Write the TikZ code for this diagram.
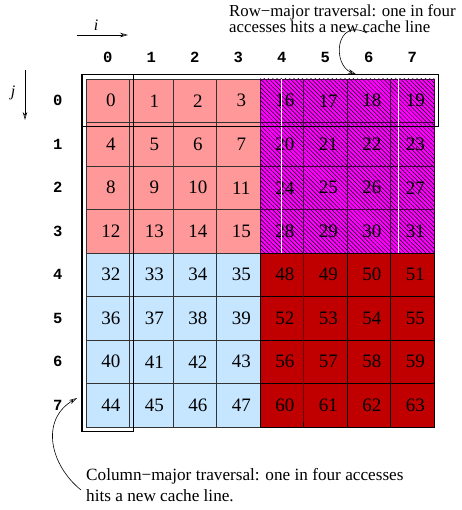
\documentclass[tikz,border=0pt]{standalone}
\usepackage{fontspec}
\setmainfont{Liberation Serif}
\setmonofont{Liberation Mono}
\usepackage{tikz}
\usetikzlibrary{arrows.meta, positioning, fit, patterns.meta}
\definecolor{CellPink}{HTML}{FF9999}
\definecolor{CellBlue}{HTML}{C6E6FF}
\definecolor{CellMagenta}{HTML}{FF00FF}
\definecolor{CellRed}{HTML}{C00000}
\definecolor{GridInk}{HTML}{333333}

\begin{document}
\begin{tikzpicture}[x=1pt, y=-1pt,
  font=\fontsize{16.8}{16.8}\selectfont,
  >={Stealth[open, length=8pt, width=4.5pt]},
  cell/.style={rectangle, draw=GridInk, line width=0.7pt, minimum size=43.5pt,
               inner sep=0pt, font=\fontsize{19}{21}\selectfont},
  pinkcell/.style={cell, fill=CellPink},
  bluecell/.style={cell, fill=CellBlue},
  redcell/.style={cell, fill=CellRed, draw=black},
  hatchcell/.style={cell, draw=black!75!CellMagenta, preaction={fill=CellMagenta},
                    pattern={Lines[angle=-45, distance=3pt, line width=0.5pt]}},
  idx/.style={font=\fontsize{15.5}{17}\selectfont\ttfamily\bfseries, inner sep=0pt},
  hl/.style={draw, line width=1.3pt, inner sep=3.8pt},
  arr/.style={->, line width=0.6pt},
  note/.style={align=left, inner sep=0pt, anchor=north west},
]
\useasboundingbox (0,0) rectangle (461,510);

% the 8x8 array, one quadrant at a time
\foreach \kind/\rs/\cs/\base in {pinkcell/0/0/0, hatchcell/0/4/16, bluecell/4/0/32, redcell/4/4/48} {
  \foreach \i in {0,...,3} {
    \foreach \j in {0,...,3} {
      \pgfmathtruncatemacro\ri{\rs+\i}
      \pgfmathtruncatemacro\ci{\cs+\j}
      \pgfmathtruncatemacro\val{\base+4*\i+\j}
      \node[\kind] (c-\ri-\ci) at ({86+43.5*(\ci+0.5)}, {79+43.5*(\ri+0.5)}) {\hspace*{6pt}\val};
    }
  }
}
\draw[white, line width=0.8pt] (c-0-4.north) -- (c-3-4.south);
\draw[white, line width=0.8pt] ([xshift=-14pt]c-0-7.north) -- ([xshift=-14pt]c-3-7.south);
\draw[CellRed!55!black, line width=1.2pt] (c-4-4.north east) -- ([yshift=5pt]c-7-4.south east);

% index labels
\foreach \k in {0,...,7} {
  \node[idx, above=16pt of c-0-\k] (col\k) {\k};
  \node[idx, left=23pt of c-\k-0] (row\k) {\k};
}

% traversal boxes
\node[hl, fit=(c-0-0)(c-0-7)] (rowbox) {};
\node[hl, fit=(c-0-0)(c-7-0)] (colbox) {};

% axes
\coordinate (i-from) at (77,35);
\coordinate (i-to) at (128,35);
\draw[arr] (i-from) -- (i-to);
\node[inner sep=0pt, font=\fontsize{16}{18}\selectfont] (ilabel) at (96,25) {\textit{i}};
\coordinate (j-from) at (25,70);
\coordinate (j-to) at (25,120);
\draw[arr] (j-from) -- (j-to);
\node[inner sep=0pt, font=\fontsize{16}{18}\selectfont] (jlabel) at (13,93) {\textit{j}};

% notes
\node[note] (rownote) at (229,4) {Row−major traversal: one in four\\accesses hits a new cache line};
\node[note, font=\fontsize{17.2}{21}\selectfont] (colnote) at (86,468)
  {Column−major traversal: one in four accesses\\hits a new cache line.};
\coordinate (rowfrom) at (367,33);
\draw[arr] (rowfrom) .. controls (335,17) and (332,65) .. ([xshift=96pt]rowbox.north);
\coordinate (colfrom) at (81,490);
\coordinate (colto) at (77,398);
\draw[arr] (colfrom) .. controls (50,465) and (40,420) .. (colto);
\end{tikzpicture}
\end{document}
